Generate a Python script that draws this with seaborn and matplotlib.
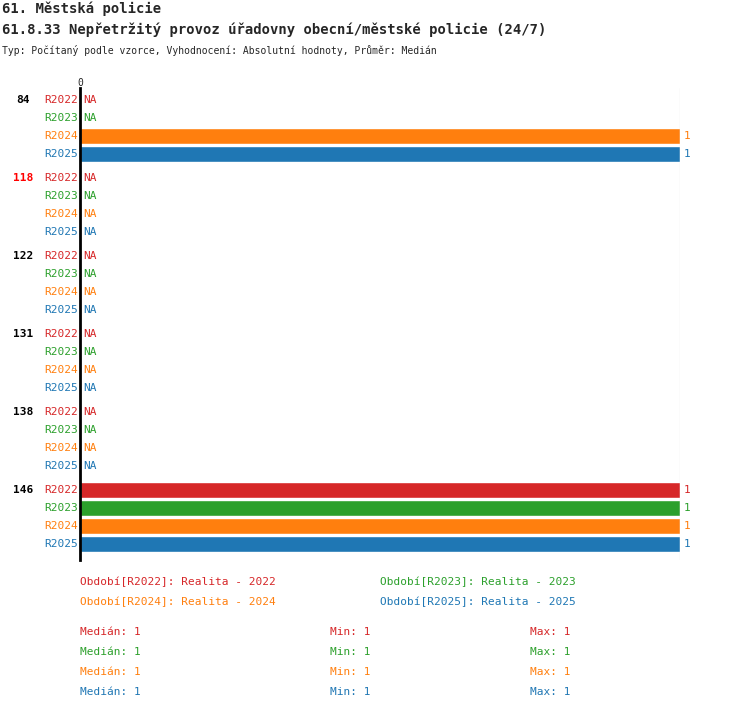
import numpy as np
import pandas as pd
import matplotlib
matplotlib.use("Agg")
import matplotlib.pyplot as plt
import seaborn as sns

groups = ["84", "118", "122", "131", "138", "146"]
group_colors = ["black", "red", "black", "black", "black", "black"]
series = ["R2022", "R2023", "R2024", "R2025"]
colors = ["#d62728", "#2ca02c", "#ff7f0e", "#1f77b4"]
values = {
    "84":  [np.nan, np.nan, 1, 1],
    "118": [np.nan, np.nan, np.nan, np.nan],
    "122": [np.nan, np.nan, np.nan, np.nan],
    "131": [np.nan, np.nan, np.nan, np.nan],
    "138": [np.nan, np.nan, np.nan, np.nan],
    "146": [1, 1, 1, 1],
}

rows = []
for gi, g in enumerate(groups):
    for si, s in enumerate(series):
        rows.append(dict(group=g, series=s, pos=gi * (4 + 1/3) + si, value=values[g][si]))
df = pd.DataFrame(rows)

sns.set_style("white")
plt.rcParams['font.family'] = ['DejaVu Sans Mono']
fig = plt.figure(figsize=(7.5, 7.1), dpi=100)
ax = fig.add_axes([80/750, 150/710, 600/750, 472/710])
sns.barplot(data=df.dropna(), x="value", y="pos", hue="series", palette=dict(zip(series, colors)),
            orient="h", native_scale=True, width=0.9, dodge=False, legend=False, ax=ax, saturation=1)
ax.set_xlim(0, 1)
ax.set_ylim(df.pos.max() + 0.889, -0.667)
for sp in ["top", "right", "bottom"]:
    ax.spines[sp].set_visible(False)
ax.spines["left"].set_linewidth(2)
ax.spines["left"].set_color("black")
ax.axvline(1, color="#bbbbbb", lw=0.8)
ax.set_xticks([]); ax.set_yticks([])
ax.set_xlabel(""); ax.set_ylabel("")
fs = 8
for _, r in df.iterrows():
    c = colors[series.index(r.series)]
    ax.text(-0.004, r.pos, r.series, color=c, ha="right", va="center", fontsize=fs)
    if np.isnan(r.value):
        ax.text(0.006, r.pos, "NA", color=c, ha="left", va="center", fontsize=fs)
    else:
        ax.text(r.value + 0.006, r.pos, f"{r.value:g}", color=c, ha="left", va="center", fontsize=fs)
for gi, g in enumerate(groups):
    ax.text(-0.095, gi * (4 + 1/3), g, color=group_colors[gi], ha="center", va="center",
            fontsize=fs, fontweight="bold")
ax.text(0, -0.667, "0", ha="center", va="bottom", fontsize=7)

def ft(x, y, s, **kw):
    fig.text(x/750, 1 - y/710, s, va="center", **kw)
ft(2, 9, "61. Městská policie", fontsize=10, fontweight="bold")
ft(2, 30, "61.8.33 Nepřetržitý provoz úřadovny obecní/městské policie (24/7)", fontsize=10, fontweight="bold")
ft(2, 50, "Typ: Počítaný podle vzorce, Vyhodnocení: Absolutní hodnoty, Průměr: Medián", fontsize=7)
ft(80, 582, "Období[R2022]: Realita - 2022", color=colors[0], fontsize=fs)
ft(380, 582, "Období[R2023]: Realita - 2023", color=colors[1], fontsize=fs)
ft(80, 602, "Období[R2024]: Realita - 2024", color=colors[2], fontsize=fs)
ft(380, 602, "Období[R2025]: Realita - 2025", color=colors[3], fontsize=fs)
for i, c in enumerate(colors):
    y = 632 + 20 * i
    ft(80, y, "Medián: 1", color=c, fontsize=fs)
    ft(330, y, "Min: 1", color=c, fontsize=fs)
    ft(530, y, "Max: 1", color=c, fontsize=fs)
fig.savefig("out.png", dpi=100)
